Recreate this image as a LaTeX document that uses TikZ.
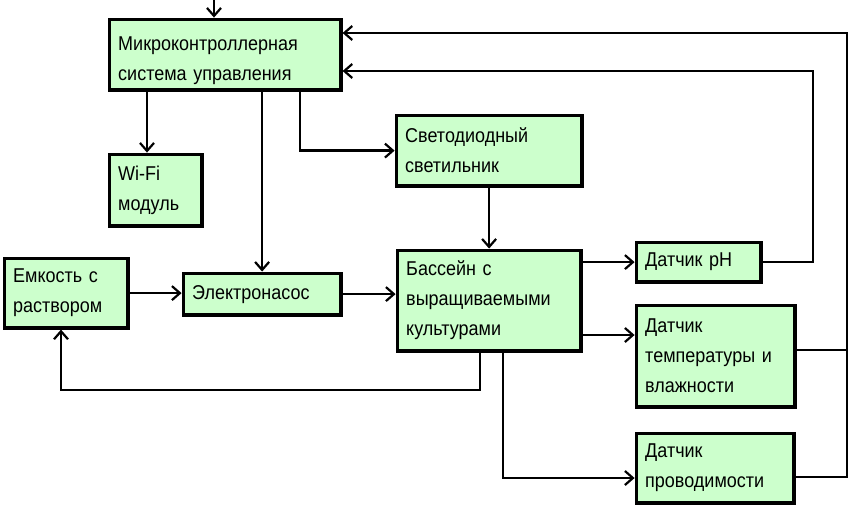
\documentclass[tikz,border=0pt]{standalone}
\usepackage{fontspec}
\setmainfont{Liberation Sans}[FakeStretch=0.9]
\usetikzlibrary{arrows.meta}
\definecolor{boxgreen}{RGB}{204,255,204}

\begin{document}
\begin{tikzpicture}[
  x=1pt, y=-1pt,
  every node/.style={font=\fontsize{20}{30}\selectfont},
  blk/.style={draw, fill=boxgreen, line width=3.2pt, anchor=north west,
              align=left, inner xsep=9pt, inner ysep=2pt},
  arrow/.style={-{Straight Barb[length=8pt, width=14pt, line width=2.2pt]}, line width=2.2pt},
  wire/.style={line width=2.2pt},
]
\useasboundingbox (0,0) rectangle (849,505);

%% control unit and modules
\node[blk, text width=213.8pt, minimum height=70.8pt] (mcu) at (107.6,17.6)
  {\rule{0pt}{26pt}Микроконтроллерная\\система управления};
\node[blk, text width=74.8pt, minimum height=71.8pt] (wifi) at (107.6,152.6)
  {Wi-Fi\\модуль};
\node[blk, text width=167.8pt, minimum height=70.8pt] (led) at (394.6,113.6)
  {Светодиодный\\светильник};

%% solution loop
\node[blk, text width=105.8pt, minimum height=69.8pt] (tank) at (2.6,256.6)
  {Емкость с\\раствором};
\node[blk, text width=139.8pt, minimum height=41.8pt] (pump) at (181.6,271.6)
  {Электронасос};
\node[blk, text width=165.8pt, minimum height=100.8pt] (pool) at (395.6,248.6)
  {Бассейн с\\выращиваемыми\\культурами};

%% sensors
\node[blk, text width=106.8pt, minimum height=39.8pt] (ph) at (634.6,240.6)
  {Датчик pH};
\node[blk, text width=140.8pt, minimum height=101.8pt] (temp) at (634.6,303.6)
  {Датчик\\температуры и\\влажности};
\node[blk, text width=139.8pt, minimum height=69.8pt] (cond) at (634.6,431.6)
  {Датчик\\проводимости};

%% helper points
\coordinate (in) at (214,0);
\coordinate (r1) at (847,33);
\coordinate (r2) at (813,71);
\coordinate (loop) at (61,390);

%% control outputs
\draw[arrow] (in) -- (in |- mcu.north);
\draw[arrow] (mcu.south -| 147,0) -- (wifi.north -| 147,0);
\draw[arrow] (pump.north |- mcu.south) -- (pump.north);
\draw[arrow] (mcu.south -| 300,0) |- (led.west);
\draw[arrow] (led.south) -- (led.south |- pool.north);

%% solution flow
\draw[arrow] (tank.east) -- (tank.east -| pump.west);
\draw[arrow] (pump.east) -- (pump.east -| pool.west);
\draw[arrow] (pool.south -| 480,0) |- (loop) -- (tank.south -| loop);

%% pool -> sensors
\draw[arrow] (pool.east |- ph.west) -- (ph.west);
\draw[arrow] (pool.east |- 0,335) -- (temp.west |- 0,335);
\draw[arrow] (pool.south -| 503,0) |- (cond.west |- 0,478);

%% feedback to controller
\draw[arrow] (ph.east) -| (r2) -- (r2 -| mcu.east);
\draw[wire] (temp.east |- 0,350) -- (r1 |- 0,350);
\draw[arrow] (cond.east |- 0,477) -| (r1) -- (r1 -| mcu.east);

\end{tikzpicture}
\end{document}
